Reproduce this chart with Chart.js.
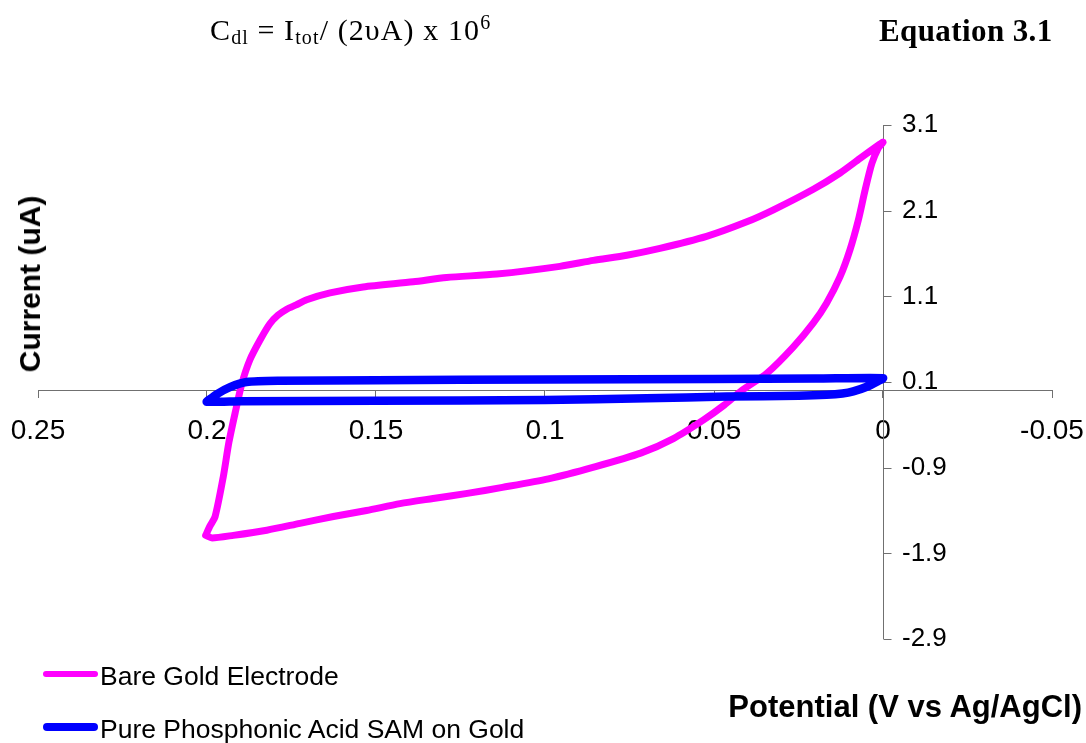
<!DOCTYPE html>
<html>
<head>
<meta charset="utf-8">
<script src="https://cdn.jsdelivr.net/npm/chart.js@4/dist/chart.umd.min.js"></script>
<style>
  html, body { margin: 0; padding: 0; background: #fff; }
  #wrap { position: relative; width: 1086px; height: 743px; overflow: hidden; }
  #cv { position: absolute; left: 0; top: 0; }
  .t { position: absolute; white-space: nowrap; line-height: 1; color: #000; }
  .serif { font-family: "Liberation Serif", "Times New Roman", serif; }
  .sans { font-family: "Liberation Sans", Arial, sans-serif; }
  .lg-line { position: absolute; height: 0; border-radius: 4px; }
</style>
</head>
<body>
<div id="wrap">
  <canvas id="cv" width="1086" height="743"></canvas>

  <div class="t serif" style="left:210px; top:15px; font-size:30px; letter-spacing:1.1px;">C<span style="font-size:20px; position:relative; top:4px;">dl</span> = I<span style="font-size:20px; position:relative; top:4px;">tot</span>/ (2&#965;A) x 10<span style="font-size:20px; position:relative; top:-11px;">6</span></div>
  <div class="t serif" style="left:879px; top:14.8px; font-size:31px; font-weight:bold; letter-spacing:0.4px;">Equation 3.1</div>

  <div class="t sans" style="left:30px; top:284px; font-size:30px; font-weight:bold; transform: translate(-50%, -50%) rotate(-90deg);">Current (uA)</div>
  <div class="t sans" style="right:4px; top:690.5px; font-size:31px; font-weight:bold;">Potential (V vs Ag/AgCl)</div>

  <div id="legend"></div>
</div>

<script>
// Bare gold electrode CV loop (potential V, current uA)
const bareX = [0.2004, 0.1985, 0.1922, 0.1823, 0.1725, 0.1626, 0.1528, 0.1429, 0.1331, 0.1230,
  0.1126, 0.0990, 0.0853, 0.0717, 0.0620, 0.0532, 0.0470, 0.0418, 0.0344, 0.0265,
  0.0206, 0.0167, 0.0127, 0.0098, 0.0073, 0.0053, 0.0033, 0.0014, 0.0000,
  0.0068, 0.0127, 0.0206, 0.0324, 0.0403, 0.0522, 0.0660, 0.0758, 0.0857, 0.0956,
  0.1143, 0.1291, 0.1390, 0.1538, 0.1636, 0.1705, 0.1736, 0.1764, 0.1790, 0.1814,
  0.1843, 0.1873, 0.1897, 0.1915, 0.1935, 0.1952, 0.1976, 0.1991, 0.2004];
const bareY = [-1.69, -1.72, -1.69, -1.63, -1.55, -1.47, -1.40, -1.32, -1.26, -1.20,
  -1.13, -1.03, -0.89, -0.73, -0.56, -0.345, -0.17, 0.00, 0.20, 0.51,
  0.79, 1.02, 1.33, 1.64, 1.99, 2.34, 2.65, 2.83, 2.90,
  2.71, 2.54, 2.35, 2.11, 1.97, 1.80, 1.66, 1.58, 1.52, 1.45,
  1.36, 1.32, 1.27, 1.21, 1.14, 1.06, 1.00, 0.95, 0.88, 0.78,
  0.59, 0.36, 0.08, -0.23, -0.60, -1.01, -1.47, -1.58, -1.69];

// Phosphonic acid SAM loop
const samX = [0.2001, 0.1960, 0.1900, 0.1500, 0.1000, 0.0700, 0.0462, 0.0250, 0.0167, 0.0120,
  0.0088, 0.0048, 0.0015, 0.0000, 0.0200, 0.0500, 0.1000, 0.1500, 0.1784, 0.1883,
  0.1932, 0.1970, 0.2001];
const samY = [-0.13, -0.13, -0.125, -0.12, -0.11, -0.09, -0.07, -0.06, -0.05, -0.035,
  -0.01, 0.045, 0.11, 0.145, 0.14, 0.135, 0.13, 0.12, 0.115, 0.10,
  0.04, -0.04, -0.13];

const seriesNames = ["Bare Gold Electrode", "Pure Phosphonic Acid SAM on Gold"];
const seriesColors = ["#ff00ff", "#0000ff"];
const seriesWidths = [7, 8.5];
const legendWidths = [6, 8];

const xTicks = [-0.05, 0, 0.05, 0.1, 0.15, 0.2, 0.25];
const xTickLabels = ["-0.05", "0", "0.05", "0.1", "0.15", "0.2", "0.25"];
const yTicks = [-2.9, -1.9, -0.9, 0.1, 1.1, 2.1, 3.1];
const yTickLabels = ["-2.9", "-1.9", "-0.9", "0.1", "1.1", "2.1", "3.1"];

const axisColor = "#707070";
const fontFamily = "'Liberation Sans', Arial, sans-serif";

const toPoints = (xs, ys) => xs.map((x, i) => ({ x: x, y: ys[i] }));

// y axis sits on x = 0 with ticks and labels to its right
const yAxisAtZero = {
  id: "yAxisAtZero",
  beforeDatasetsDraw(chart) {
    const { ctx, scales: { x, y } } = chart;
    const px = Math.round(x.getPixelForValue(0)) + 0.5;
    ctx.save();
    ctx.strokeStyle = axisColor;
    ctx.lineWidth = 1;
    ctx.beginPath();
    ctx.moveTo(px, y.getPixelForValue(yTicks[yTicks.length - 1]));
    ctx.lineTo(px, y.getPixelForValue(yTicks[0]));
    y.ticks.forEach(t => {
      const py = Math.round(y.getPixelForValue(t.value)) + 0.5;
      ctx.moveTo(px, py);
      ctx.lineTo(px + 8, py);
    });
    ctx.stroke();
    ctx.fillStyle = "#000";
    ctx.font = "26px " + fontFamily;
    ctx.textAlign = "left";
    ctx.textBaseline = "middle";
    y.ticks.forEach((t, i) => {
      ctx.fillText(yTickLabels[i], px + 18.5, y.getPixelForValue(t.value));
    });
    ctx.restore();
  }
};

new Chart(document.getElementById("cv"), {
  type: "scatter",
  data: {
    datasets: [
      {
        label: seriesNames[0],
        data: toPoints(bareX, bareY),
        borderColor: seriesColors[0],
        borderWidth: seriesWidths[0],
        order: 1
      },
      {
        label: seriesNames[1],
        data: toPoints(samX, samY),
        borderColor: seriesColors[1],
        borderWidth: seriesWidths[1],
        order: 0
      }
    ]
  },
  options: {
    responsive: false,
    animation: false,
    devicePixelRatio: 1,
    showLine: true,
    elements: {
      point: { radius: 0, hoverRadius: 0 },
      line: { tension: 0.25, fill: false, borderCapStyle: "round", borderJoinStyle: "round" }
    },
    layout: { padding: { left: 38, right: 34, top: 125, bottom: 104 } },
    plugins: {
      legend: { display: false },
      tooltip: { enabled: false }
    },
    scales: {
      x: {
        type: "linear",
        min: -0.05,
        max: 0.25,
        reverse: true,
        position: { y: 0 },
        afterBuildTicks: s => { s.ticks = xTicks.map(v => ({ value: v })); },
        afterFit: s => { s.height = 0; },
        border: { display: true, color: axisColor, width: 1 },
        grid: { drawOnChartArea: false, drawTicks: true, tickLength: 7, color: axisColor },
        ticks: {
          font: { family: fontFamily, size: 28 },
          color: "#000",
          padding: 17,
          maxRotation: 0,
          autoSkip: false,
          callback: (v, i) => xTickLabels[i]
        }
      },
      y: {
        type: "linear",
        min: -2.9,
        max: 3.1,
        display: false,
        afterBuildTicks: s => { s.ticks = yTicks.map(v => ({ value: v })); },
        afterFit: s => { s.width = 0; }
      }
    }
  },
  plugins: [yAxisAtZero]
});

// legend at the bottom left
const legend = document.getElementById("legend");
seriesNames.forEach((name, i) => {
  const cy = 674 + i * 53;
  const line = document.createElement("div");
  line.className = "lg-line";
  line.style.cssText = "left:43px; width:55px; top:" + (cy - legendWidths[i] / 2) + "px; border-top:" + legendWidths[i] + "px solid " + seriesColors[i] + ";";
  legend.appendChild(line);
  const txt = document.createElement("div");
  txt.className = "t sans";
  txt.style.cssText = "left:100px; top:" + (663 + i * 52.5) + "px; font-size:26.5px;";
  txt.textContent = name;
  legend.appendChild(txt);
});
</script>
</body>
</html>
